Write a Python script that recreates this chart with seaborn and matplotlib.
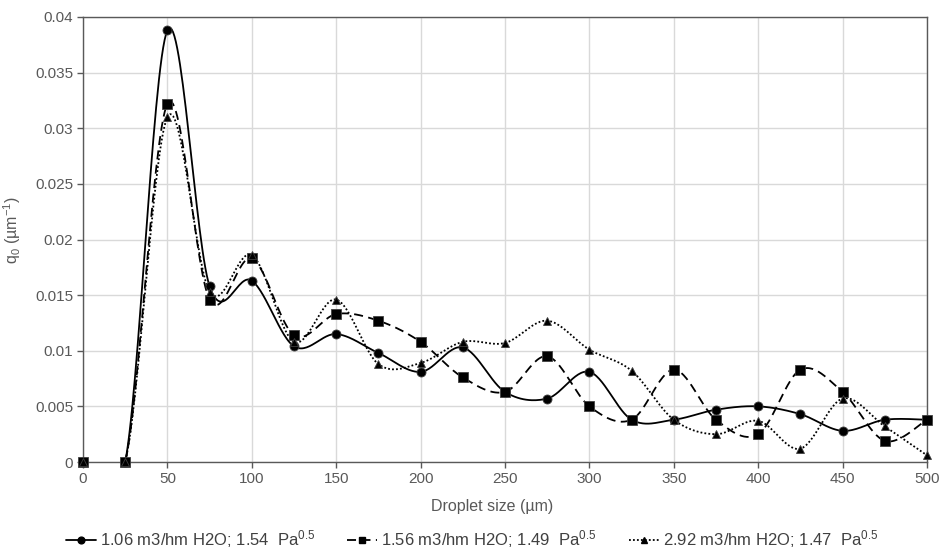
import numpy as np
import pandas as pd
import matplotlib
matplotlib.use("Agg")
import matplotlib.pyplot as plt
import seaborn as sns
from matplotlib.lines import Line2D

# ---- data ----
sizes = [0, 25, 50, 75, 100, 125, 150, 175, 200, 225, 250, 275, 300, 325, 350,
         375, 400, 425, 450, 475, 500]
s1 = [0, 0, 0.0388, 0.0158, 0.0163, 0.0104, 0.0115, 0.0098, 0.0081, 0.0103, 0.0063,
      0.0057, 0.0081, 0.0038, 0.0038, 0.0047, 0.0050, 0.0043, 0.0028, 0.0038, 0.0038]
s2 = [0, 0, 0.0322, 0.0146, 0.0183, 0.0114, 0.0133, 0.0127, 0.0108, 0.0076, 0.0063,
      0.0095, 0.0050, 0.0038, 0.0083, 0.0038, 0.0025, 0.0083, 0.0063, 0.0019, 0.0038]
s3 = [0, 0, 0.0310, 0.0153, 0.0186, 0.0108, 0.0146, 0.0088, 0.0089, 0.0108, 0.0107,
      0.0127, 0.0101, 0.0082, 0.0038, 0.0025, 0.0037, 0.0012, 0.0057, 0.0032, 0.0006]
labels = ["1.06 m3/hm H2O; 1.54  Pa$^{0.5}$",
          "1.56 m3/hm H2O; 1.49  Pa$^{0.5}$",
          "2.92 m3/hm H2O; 1.47  Pa$^{0.5}$"]
xticks = [0, 50, 100, 150, 200, 250, 300, 350, 400, 450, 500]
yticks = [0, 0.005, 0.01, 0.015, 0.02, 0.025, 0.03, 0.035, 0.04]
ytick_labels = ["0", "0.005", "0.01", "0.015", "0.02", "0.025", "0.03", "0.035", "0.04"]


def smooth(x, y, n=30):
    """Excel-like smoothed line (cubic Bezier, Catmull-Rom control points)."""
    x = np.asarray(x, float)
    y = np.asarray(y, float)
    P = np.column_stack([x, y])
    out = []
    for i in range(len(P) - 1):
        p0 = P[i - 1] if i > 0 else P[i]
        p1, p2 = P[i], P[i + 1]
        p3 = P[i + 2] if i + 2 < len(P) else P[i + 1]
        c1 = p1 + (p2 - p0) / 6.0
        c2 = p2 - (p3 - p1) / 6.0
        t = np.linspace(0, 1, n, endpoint=(i == len(P) - 2))[:, None]
        seg = ((1 - t) ** 3) * p1 + 3 * ((1 - t) ** 2) * t * c1 + 3 * (1 - t) * t ** 2 * c2 + t ** 3 * p2
        out.append(seg)
    out = np.vstack(out)
    return out[:, 0], out[:, 1]


sns.set_theme(style="white")
plt.rcParams['font.family'] = ['Liberation Sans', 'DejaVu Sans']
plt.rcParams['mathtext.fontset'] = 'custom'
plt.rcParams['mathtext.rm'] = 'Liberation Sans'
plt.rcParams['mathtext.it'] = 'Liberation Sans'

fig = plt.figure(figsize=(9.39, 5.49), dpi=100)
ax = fig.add_axes([83 / 939, 1 - 462 / 549, (927 - 83) / 939, (462 - 17) / 549])

styles = [("-", "o", 6.5), ((0, (5, 3)), "s", 6.5), ((0, (1, 1.2)), "^", 5.5)]
series = [s1, s2, s3]
handles = []
for ys, (ls, mk, ms), lab in zip(series, styles, labels):
    sx, sy = smooth(sizes, ys)
    sns.lineplot(x=sx, y=sy, ax=ax, color="black", linestyle=ls, linewidth=1.3,
                 sort=False, estimator=None, legend=False)
    ax.plot(sizes, ys, linestyle="none", marker=mk, markersize=ms, color="black",
            markeredgecolor="#404040", markeredgewidth=0.6, clip_on=False, zorder=4)
    handles.append(Line2D([0], [0], color="black", linestyle=ls, linewidth=1.3,
                          marker=mk, markersize=ms * 0.75, label=lab))

ax.set_xlim(0, 500)
ax.set_ylim(0, 0.04)
ax.set_xticks(xticks)
ax.set_yticks(yticks)
ax.set_yticklabels(ytick_labels)
ax.grid(True, color="#d9d9d9", linewidth=1)
ax.set_axisbelow(True)
for sp in ax.spines.values():
    sp.set_color("#595959")
    sp.set_linewidth(1.0)
ax.tick_params(axis="both", colors="#595959", labelsize=11, length=4, width=1,
               direction="out", bottom=True, left=True, pad=3)
ax.set_xlabel("Droplet size (µm)", fontsize=11.5, color="#595959")
ax.set_ylabel("q$_0$ (µm$^{-1}$)", fontsize=11.5, color="#595959")
ax.xaxis.set_label_coords(0.485, -0.083)
ax.yaxis.set_label_coords(-0.071, 0.52)

fig.legend(handles=handles, loc="center", bbox_to_anchor=(472 / 939, 1 - 539 / 549), ncol=3,
           frameon=False, fontsize=12, labelcolor="#404040", handlelength=1.8,
           handletextpad=0.25, columnspacing=1.9, borderpad=0.1)

fig.savefig("out.png", dpi=100)
